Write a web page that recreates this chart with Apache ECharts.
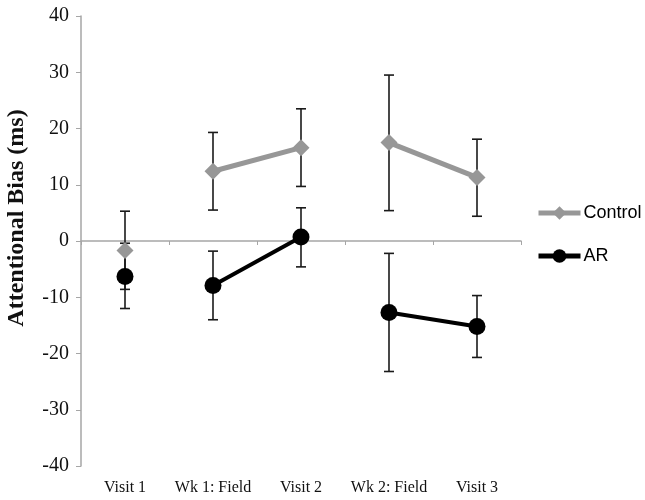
<!DOCTYPE html>
<html>
<head>
<meta charset="utf-8">
<script src="https://cdn.jsdelivr.net/npm/echarts@6/dist/echarts.min.js"></script>
<style>html,body{margin:0;padding:0;background:#fff}#c{width:645px;height:500px}</style>
</head>
<body>
<div id="c"></div>
<script>
var categories = ['Visit 1', 'Wk 1: Field', 'Visit 2', 'Wk 2: Field', 'Visit 3'];
var controlMean = [-1.7, 12.4, 16.6, 17.5, 11.3];
var controlLow  = [-8.6, 5.5, 9.7, 5.4, 4.4];
var controlHigh = [5.3, 19.3, 23.5, 29.5, 18.1];
var arMean = [-6.3, -7.9, 0.7, -12.7, -15.2];
var arLow  = [-12.0, -14.0, -4.6, -23.2, -20.7];
var arHigh = [-0.4, -1.8, 5.9, -2.2, -9.7];
var segments = [[1, 2], [3, 4], [0]];
var yTicks = [-40, -30, -20, -10, 0, 10, 20, 30, 40];

var groups = [
  {name: 'Control', mean: controlMean, low: controlLow, high: controlHigh, color: '#979797', symbol: 'diamond', size: 17, width: 5},
  {name: 'AR', mean: arMean, low: arLow, high: arHigh, color: '#000000', symbol: 'circle', size: 17, width: 4}
];

var series = [];
groups.forEach(function (g) {
  segments.forEach(function (seg) {
    series.push({
      type: 'line',
      name: g.name,
      xAxisIndex: 0,
      z: 3,
      data: categories.map(function (c, i) { return seg.indexOf(i) >= 0 ? g.mean[i] : null; }),
      symbol: g.symbol,
      symbolSize: g.size,
      showAllSymbol: true,
      connectNulls: false,
      itemStyle: {color: g.color},
      lineStyle: {color: g.color, width: g.width},
      emphasis: {disabled: true}
    });
  });
});
groups.forEach(function (g) {
  series.push({
    type: 'custom',
    name: g.name + ' err',
    xAxisIndex: 0,
    z: 1,
    silent: true,
    data: categories.map(function (c, i) { return [i, g.low[i], g.high[i]]; }),
    renderItem: function (params, api) {
      var x = api.value(0);
      var lo = api.coord([x, api.value(1)]);
      var hi = api.coord([x, api.value(2)]);
      var w = 5;
      var st = {stroke: '#1a1a1a', lineWidth: 1.6};
      return {type: 'group', children: [
        {type: 'line', shape: {x1: lo[0], y1: lo[1], x2: hi[0], y2: hi[1]}, style: st},
        {type: 'line', shape: {x1: lo[0] - w, y1: lo[1], x2: lo[0] + w, y2: lo[1]}, style: st},
        {type: 'line', shape: {x1: hi[0] - w, y1: hi[1], x2: hi[0] + w, y2: hi[1]}, style: st}
      ]};
    }
  });
});

var chart = echarts.init(document.getElementById('c'));
chart.setOption({
  animation: false,
  backgroundColor: '#fff',
  grid: {left: 81, right: 124, top: 16, bottom: 34, containLabel: false},
  legend: {
    data: [
      {name: 'Control', lineStyle: {width: 5}, itemStyle: {color: '#979797'}},
      {name: 'AR', lineStyle: {width: 5}, itemStyle: {color: '#000'}}
    ],
    orient: 'vertical',
    left: 531,
    top: 199,
    itemWidth: 42,
    itemHeight: 17,
    itemGap: 25,
    textStyle: {fontFamily: 'Liberation Sans', fontSize: 18, color: '#000', padding: [0, 0, 0, -2]}
  },
  xAxis: [
    {
      type: 'category',
      data: categories,
      position: 'bottom',
      axisLine: {onZero: true, lineStyle: {color: '#a6a6a6', width: 1.5}},
      axisTick: {show: true, inside: false, length: 4, interval: 0, lineStyle: {color: '#a6a6a6'}},
      axisLabel: {show: false},
      splitLine: {show: false}
    },
    {
      type: 'category',
      data: categories,
      position: 'bottom',
      axisLine: {show: false, onZero: false},
      axisTick: {show: false},
      axisLabel: {show: true, interval: 0, margin: 14, fontFamily: 'Liberation Serif', fontSize: 16, color: '#111'},
      splitLine: {show: false}
    }
  ],
  yAxis: {
    type: 'value',
    min: yTicks[0],
    max: yTicks[yTicks.length - 1],
    interval: 10,
    axisLine: {show: true, lineStyle: {color: '#a6a6a6', width: 1.5}},
    axisTick: {show: true, length: 5, lineStyle: {color: '#a6a6a6'}},
    axisLabel: {margin: 12, fontFamily: 'Liberation Serif', fontSize: 20, color: '#111'},
    splitLine: {show: false}
  },
  graphic: [{
    type: 'text',
    x: 17,
    y: 218,
    rotation: Math.PI / 2,
    style: {
      text: 'Attentional Bias (ms)',
      font: 'bold 24px "Liberation Serif"',
      fill: '#111',
      align: 'center',
      verticalAlign: 'middle'
    }
  }],
  series: series
});
</script>
</body>
</html>
